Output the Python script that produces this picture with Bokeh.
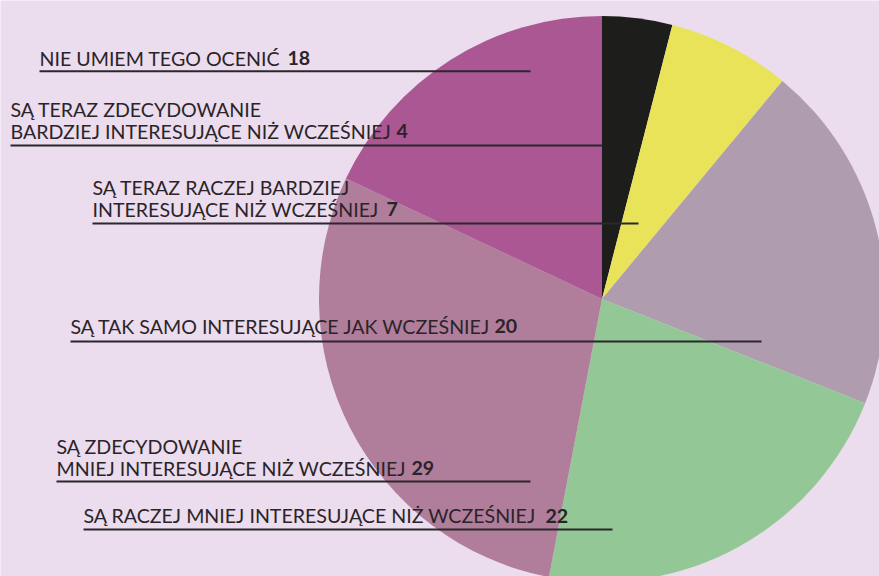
from bokeh.plotting import figure
from bokeh.models import Range1d
from bokeh.core.properties import value
from bokeh.embed import file_html
from bokeh.resources import INLINE
import math

# ---- data (clockwise from 12 o'clock) ----
categories = [
    "SĄ TERAZ ZDECYDOWANIE BARDZIEJ INTERESUJĄCE NIŻ WCZEŚNIEJ",
    "SĄ TERAZ RACZEJ BARDZIEJ INTERESUJĄCE NIŻ WCZEŚNIEJ",
    "SĄ TAK SAMO INTERESUJĄCE JAK WCZEŚNIEJ",
    "SĄ RACZEJ MNIEJ INTERESUJĄCE NIŻ WCZEŚNIEJ",
    "SĄ ZDECYDOWANIE MNIEJ INTERESUJĄCE NIŻ WCZEŚNIEJ",
    "NIE UMIEM TEGO OCENIĆ",
]
values = [4, 7, 20, 22, 29, 18]
colors = ["#1D1D1B", "#E9E35A", "#AF9CAE", "#93C896", "#B07D9B", "#AB5794"]

# label lines as printed (first line, second line)
label_lines = [
    ["SĄ TERAZ ZDECYDOWANIE", "BARDZIEJ INTERESUJĄCE NIŻ WCZEŚNIEJ"],
    ["SĄ TERAZ RACZEJ BARDZIEJ", "INTERESUJĄCE NIŻ WCZEŚNIEJ"],
    ["SĄ TAK SAMO INTERESUJĄCE JAK WCZEŚNIEJ"],
    ["SĄ RACZEJ MNIEJ INTERESUJĄCE NIŻ WCZEŚNIEJ"],
    ["SĄ ZDECYDOWANIE", "MNIEJ INTERESUJĄCE NIŻ WCZEŚNIEJ"],
    ["NIE UMIEM TEGO OCENIĆ"],
]

# ---- layout (pixel coordinates, y measured from top) ----
W, H = 879, 576
BG = "#EBDCEE"
cx, cy, R = 601.5, 298.5, 283
# per label: text x, last baseline y, number x, line x0, line x1, line y
layout = [
    (10, 137, 396, 10, 602, 145),
    (92, 215, 386, 92, 638, 223),
    (70, 332, 494, 70, 761, 341),
    (83, 521.5, 545, 83, 612, 529),
    (56, 474, 411, 56, 530, 481),
    (39, 64, 287, 39, 530, 70.7),
]
BASE_SHIFT = 6.5
LINE_GAP = 21.5
FONT = "Lato"
SIZE = "19.6px"
TXT = "#2A2428"

p = figure(width=W, height=H, output_backend="svg", toolbar_location=None,
           x_range=Range1d(0, W), y_range=Range1d(0, H),
           min_border=0, background_fill_color=BG, border_fill_color=BG)
p.axis.visible = False
p.grid.visible = False
p.outline_line_color = None

total = sum(values)
cum = 0
starts, ends = [], []
for v in values:
    a0 = math.pi / 2 - 2 * math.pi * (cum + v) / total
    a1 = math.pi / 2 - 2 * math.pi * cum / total
    starts.append(a0)
    ends.append(a1)
    cum += v

p.wedge(x=[cx] * len(values), y=[H - cy] * len(values), radius=R,
        start_angle=starts, end_angle=ends, fill_color=colors,
        line_color=None)

# leader lines
p.segment(x0=[l[3] for l in layout], y0=[H - l[5] for l in layout],
          x1=[l[4] for l in layout], y1=[H - l[5] for l in layout],
          line_color="#2B272B", line_width=2)

tx, ty, tt = [], [], []
for lines, l in zip(label_lines, layout):
    n = len(lines)
    for i, s in enumerate(lines):
        tx.append(l[0])
        ty.append(H - (l[1] - BASE_SHIFT - (n - 1 - i) * LINE_GAP))
        tt.append(s)
p.text(x=tx, y=ty, text=tt, text_font=value(FONT), text_font_size=SIZE,
       text_color=TXT, text_baseline="alphabetic", text_align="left")

p.text(x=[l[2] for l in layout], y=[H - (l[1] - BASE_SHIFT) for l in layout],
       text=[str(v) for v in values], text_font=value(FONT),
       text_font_size=SIZE, text_font_style="bold", text_color=TXT,
       text_baseline="alphabetic", text_align="left")

html = file_html(p, INLINE)
html = html.replace("<body>", '<body style="margin:0;background-color:%s;overflow:hidden;">' % BG, 1)
open("out.html", "w").write(html)
